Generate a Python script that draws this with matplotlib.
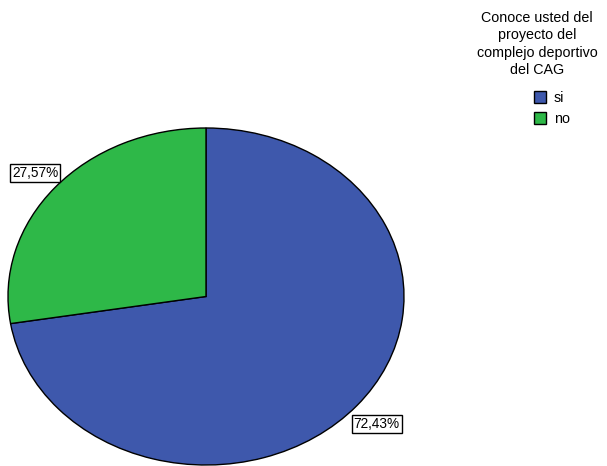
import matplotlib
matplotlib.use('Agg')
import matplotlib.pyplot as plt

plt.rcParams['font.family'] = ['Liberation Sans', 'DejaVu Sans']

categories = ['si', 'no']
percentages = [72.43, 27.57]
colors = ['#3e58ac', '#2eb848']
legend_title = 'Conoce usted del\nproyecto del\ncomplejo deportivo\ndel CAG'

W, H = 607, 466
fig = plt.figure(figsize=(W / 100, H / 100), dpi=100)

# ellipse bounding box in pixels: x 8..404, y 128..465
ax = fig.add_axes([8 / W, (H - 465) / H, 396 / W, 337 / H])
wedges, _ = ax.pie(percentages, colors=colors, startangle=90, counterclock=False,
                   radius=1, wedgeprops=dict(edgecolor='black', linewidth=1.0))
ax.set_aspect('auto')
ax.set_xlim(-1, 1)
ax.set_ylim(-1, 1)
ax.axis('off')

# percentage labels
label_pos = [(0.862, -0.756), (-0.862, 0.735)]
for (x, y), p in zip(label_pos, percentages):
    ax.text(x, y, f'{p:.2f}%'.replace('.', ','), ha='center', va='center', fontsize=9.8,
            bbox=dict(boxstyle='square,pad=0.15', facecolor='white', edgecolor='black', linewidth=1.0),
            clip_on=False)

# legend
fig.text(537 / W, 1 - 11 / H, legend_title, ha='center', va='top', multialignment='center',
         fontsize=10.3, linespacing=1.3)
fig.legend(wedges, categories, loc='upper left', bbox_to_anchor=(534 / W, 1 - 91 / H),
           frameon=False, fontsize=10.3, handlelength=0.85, handleheight=0.9,
           handletextpad=0.55, labelspacing=0.5, borderpad=0, borderaxespad=0)

fig.savefig('out.png', dpi=100)
